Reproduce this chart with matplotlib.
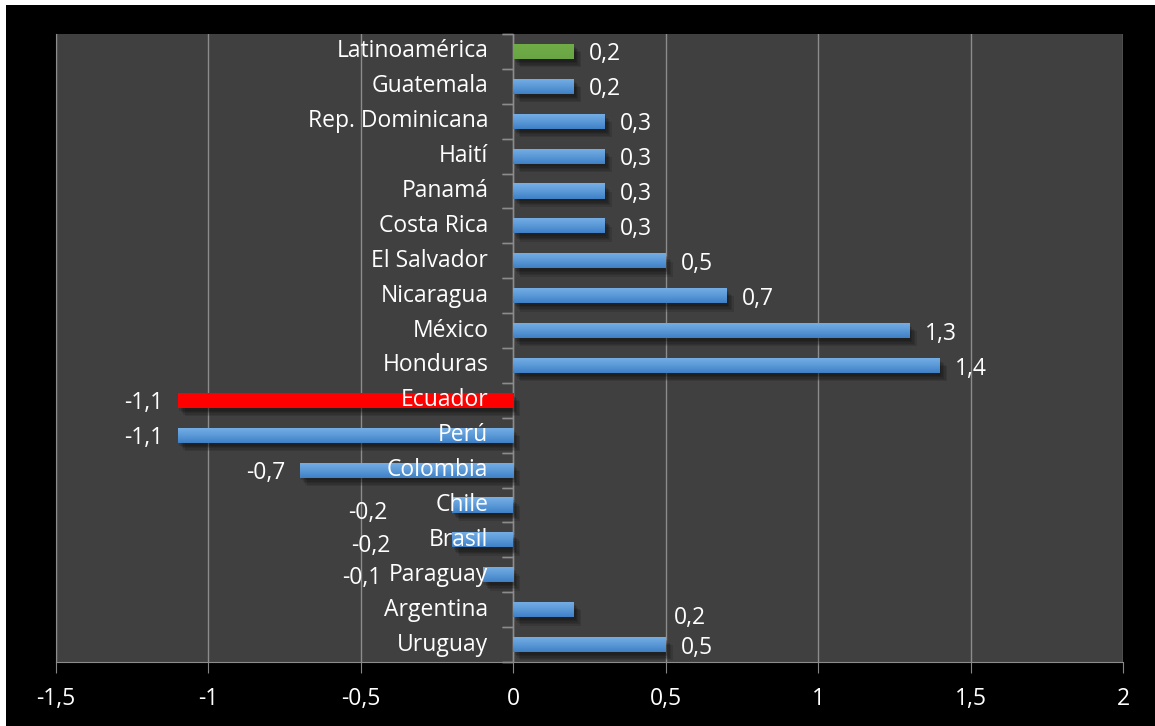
import numpy as np
import matplotlib.pyplot as plt
from matplotlib import patheffects as pe
from matplotlib.colors import LinearSegmentedColormap
from matplotlib.transforms import offset_copy
from matplotlib.patches import Rectangle

plt.rcParams['font.family'] = ['Open Sans', 'DejaVu Sans']

# variacion por pais, de arriba hacia abajo
paises = ['Latinoamérica', 'Guatemala', 'Rep. Dominicana', 'Haití', 'Panamá',
          'Costa Rica', 'El Salvador', 'Nicaragua', 'México', 'Honduras',
          'Ecuador', 'Perú', 'Colombia', 'Chile', 'Brasil', 'Paraguay',
          'Argentina', 'Uruguay']
valores = [0.2, 0.2, 0.3, 0.3, 0.3, 0.3, 0.5, 0.7, 1.3, 1.4,
           -1.1, -1.1, -0.7, -0.2, -0.2, -0.1, 0.2, 0.5]
xticks = [-1.5, -1, -0.5, 0, 0.5, 1, 1.5, 2]
xtick_labels = ['-1,5', '-1', '-0,5', '0', '0,5', '1', '1,5', '2']

# ajustes manuales de algunas etiquetas (px)
ajuste_etiqueta = {'Chile': (-50, -5), 'Brasil': (-47, -3), 'Paraguay': (-86, 0),
                   'Argentina': (85, -5), 'Honduras': (0, -1)}

fs = 16.5
fig = plt.figure(figsize=(11.55, 7.26), dpi=100, facecolor='white')
fig.patches.append(Rectangle((6 / 1155, 0), 1, 1 - 5 / 726, transform=fig.transFigure,
                             facecolor='black', edgecolor='none', zorder=-10))
ax = fig.add_axes([56 / 1155, 64 / 726, 1067 / 1155, 628 / 726])
ax.set_facecolor('#404040')

n = len(paises)
y = np.arange(n)[::-1]
alto = 0.43

azul = LinearSegmentedColormap.from_list('azul', ['#3f80c6', '#5c9ad8', '#78b0e6'])
verde = LinearSegmentedColormap.from_list('verde', ['#6aa544', '#70ad47'])
rojo = LinearSegmentedColormap.from_list('rojo', ['#ff0000', '#ff0000'])
grad = np.linspace(0, 1, 64).reshape(-1, 1)

# sombra difusa debajo de cada barra
sombra = [pe.SimplePatchShadow(offset=(o, -o - 1), alpha=0.12, shadow_rgbFace='black')
          for o in (1, 2, 3, 4, 5)]

barras = ax.barh(y, valores, height=alto, color='#000000', zorder=3)
for b, p in zip(barras, paises):
    b.set_path_effects(sombra)
    cmap = {'Latinoamérica': verde, 'Ecuador': rojo}.get(p, azul)
    x0, x1 = sorted([b.get_x(), b.get_x() + b.get_width()])
    im = ax.imshow(grad, cmap=cmap, aspect='auto', origin='lower',
                   extent=[x0, x1, b.get_y(), b.get_y() + b.get_height()], zorder=4)
    im.set_clip_path(b)

ax.set_xlim(-1.5, 2)
ax.set_ylim(-0.5, n - 0.5)

ax.set_xticks(xticks)
ax.set_xticklabels(xtick_labels, color='white', fontsize=fs)
ax.tick_params(axis='x', length=8, color='#868686', pad=10)
ax.set_yticks([])
ax.grid(axis='x', color='#8c8c8c', linewidth=1, zorder=1)
ax.spines['top'].set_visible(False)
ax.spines['right'].set_visible(False)
ax.spines['bottom'].set_color('#8c8c8c')
ax.spines['left'].set_color('#8c8c8c')

# eje vertical en cero con marcas entre categorias
ax.axvline(0, color='#8c8c8c', linewidth=1, zorder=2)
for yy in np.arange(-0.5, n, 1.0):
    ax.plot([0, 0], [yy, yy], marker=[(0, 0), (-1, 0)], markersize=16,
            color='#8c8c8c', linewidth=0, zorder=2, clip_on=False)

# nombres de pais junto al eje cero
for yy, p in zip(y, paises):
    t = offset_copy(ax.transData, fig=fig, x=-25, y=0, units='dots')
    ax.text(0, yy, p, transform=t, ha='right', va='center', color='white',
            fontsize=fs, zorder=6)

# etiquetas de valor
for yy, v, p in zip(y, valores, paises):
    dx, dy = ajuste_etiqueta.get(p, (0, 0))
    if v >= 0:
        t = offset_copy(ax.transData, fig=fig, x=15 + dx, y=-3 + dy, units='dots')
        ha = 'left'
    else:
        t = offset_copy(ax.transData, fig=fig, x=-15 + dx, y=-3 + dy, units='dots')
        ha = 'right'
    ax.text(v, yy, f'{v:.1f}'.replace('.', ','), transform=t, ha=ha, va='center',
            color='white', fontsize=fs, zorder=6)

fig.savefig('out.png', dpi=100, facecolor=fig.get_facecolor())
